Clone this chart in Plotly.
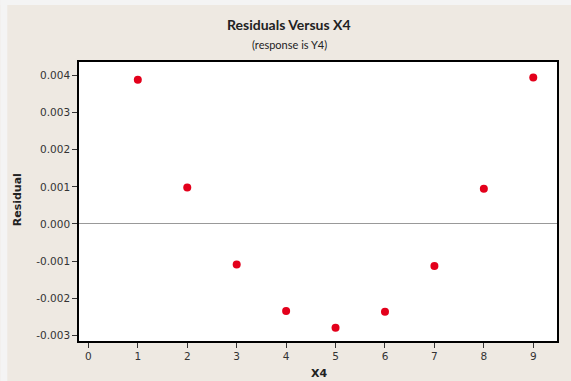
import plotly.graph_objects as go

x4 = [1, 2, 3, 4, 5, 6, 7, 8, 9]
residual = [0.00388, 0.00098, -0.00109, -0.00234, -0.00279, -0.00236, -0.00113, 0.00095, 0.00394]
x_ticks = [0, 1, 2, 3, 4, 5, 6, 7, 8, 9]
y_ticks = [0.004, 0.003, 0.002, 0.001, 0.0, -0.001, -0.002, -0.003]
y_tick_labels = ["0.004", "0.003", "0.002", "0.001", "0.000", "-0.001", "-0.002", "-0.003"]

W, H = 571, 381
L, R, T, B = 79, 12, 62, 40
pw = W - L - R
ph = H - T - B

fig = go.Figure()
fig.add_trace(go.Scatter(
    x=x4, y=residual, mode="markers",
    marker=dict(color="#e3001b", size=8, line=dict(width=0)),
    showlegend=False, cliponaxis=False,
))

tick_font = dict(family="DejaVu Sans", size=10.5, color="#333333")
fig.update_layout(
    width=W, height=H,
    margin=dict(l=L, r=R, t=T, b=B, pad=0),
    paper_bgcolor="#eee9e2",
    plot_bgcolor="white",
    xaxis=dict(
        range=[-0.19, 9.48], tickvals=x_ticks, ticks="outside", ticklen=5,
        tickcolor="#333333", tickwidth=1, showgrid=False, zeroline=False,
        showline=True, linecolor="black", linewidth=1.5, mirror=True,
        tickfont=tick_font,
    ),
    yaxis=dict(
        range=[-0.00315, 0.00436], tickvals=y_ticks, ticktext=y_tick_labels,
        ticks="outside", ticklen=5, tickcolor="#333333", tickwidth=1,
        showgrid=False, zeroline=True, zerolinecolor="#999999", zerolinewidth=1,
        showline=True, linecolor="black", linewidth=1.5, mirror=True,
        tickfont=tick_font,
    ),
    shapes=[
        dict(type="rect", xref="paper", yref="paper",
             x0=(0 - L) / pw, x1=(7 - L) / pw, y0=-B / ph, y1=(H - B) / ph + 0.01,
             fillcolor="#f4f4f4", line=dict(width=0), layer="below"),
        dict(type="rect", xref="paper", yref="paper",
             x0=(0 - L) / pw, x1=(W - L) / pw + 0.01, y0=1 + (T - 5) / ph, y1=1 + T / ph + 0.01,
             fillcolor="#f4f4f4", line=dict(width=0), layer="below"),
    ],
    annotations=[
        dict(text="<b>Residuals Versus X4</b>", xref="paper", yref="paper",
             x=(290 - L) / pw, y=1 + (T - 24) / ph, showarrow=False,
             xanchor="center", yanchor="middle",
             font=dict(family="Lato", size=14, color="#222222")),
        dict(text="(response is Y4)", xref="paper", yref="paper",
             x=(290 - L) / pw, y=1 + (T - 44) / ph, showarrow=False,
             xanchor="center", yanchor="middle",
             font=dict(family="Lato", size=11, color="#222222")),
        dict(text="<b>X4</b>", xref="paper", yref="paper",
             x=(320 - L) / pw, y=-(374 - (H - B)) / ph, showarrow=False,
             xanchor="center", yanchor="middle",
             font=dict(family="DejaVu Sans", size=11, color="#222222")),
        dict(text="<b>Residual</b>", xref="paper", yref="paper",
             x=(17 - L) / pw, y=(H - B - 200) / ph, showarrow=False, textangle=-90,
             xanchor="center", yanchor="middle",
             font=dict(family="DejaVu Sans", size=11, color="#222222")),
    ],
)

fig.write_html("out.html")
